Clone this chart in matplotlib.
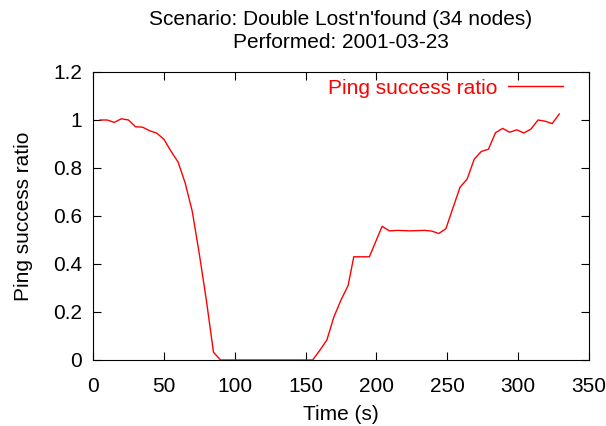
import numpy as np
import matplotlib.pyplot as plt

plt.rcParams['font.family'] = ['Liberation Sans', 'DejaVu Sans']

# Ping success ratio over time
time_s = [5, 10, 15, 20, 25, 30, 35, 40, 45, 50, 55, 60, 65, 70, 75, 80, 85, 90,
          95, 100, 105, 110, 115, 120, 125, 130, 135, 140, 145, 150, 155,
          160, 165, 170, 175, 180, 184, 195, 204, 209, 215, 224, 234, 239, 244,
          249, 254, 259, 264, 269, 274, 279, 284, 289, 294, 299, 304, 309, 314,
          319, 324, 329]
ratio = [1.0, 1.0, 0.99, 1.005, 1.0, 0.972, 0.97, 0.955, 0.945, 0.92, 0.87, 0.825,
         0.738, 0.62, 0.442, 0.248, 0.032, 0.0,
         0.0, 0.0, 0.0, 0.0, 0.0, 0.0, 0.0, 0.0, 0.0, 0.0, 0.0, 0.0, 0.0,
         0.04, 0.083, 0.18, 0.25, 0.31, 0.43, 0.43, 0.557, 0.538, 0.54, 0.538,
         0.54, 0.537, 0.527, 0.547, 0.634, 0.72, 0.754, 0.837, 0.869, 0.878,
         0.947, 0.965, 0.949, 0.959, 0.946, 0.962, 1.0, 0.995, 0.985, 1.025]

fig = plt.figure(figsize=(6.06, 4.26), dpi=100)
ax = fig.add_axes([0.1535, 0.155, 0.8185, 0.676])

ax.plot(time_s, ratio, color='red', linewidth=1, label='Ping success ratio')

ax.set_xlim(0, 350)
ax.set_ylim(0, 1.2)
ax.set_xticks(np.arange(0, 351, 50))
ax.set_yticks(np.arange(0, 1.21, 0.2))
ax.set_yticklabels(['0', '0.2', '0.4', '0.6', '0.8', '1', '1.2'])
ax.tick_params(direction='in', top=True, right=True, labelsize=15, length=6)
ax.tick_params(axis='x', pad=12)
ax.tick_params(axis='y', pad=8)

ax.set_xlabel('Time (s)', fontsize=15, labelpad=7)
ax.set_ylabel('Ping success ratio', fontsize=15, labelpad=14)
ax.set_title("Scenario: Double Lost'n'found (34 nodes)\nPerformed: 2001-03-23",
             fontsize=15, linespacing=1.3, pad=17)

ax.legend(loc='upper right', bbox_to_anchor=(0.9476, 0.977), frameon=False,
          markerfirst=False, fontsize=15, labelcolor='red', handlelength=2.65,
          handletextpad=0.5, borderaxespad=0, borderpad=0)

fig.savefig('out.png', dpi=100)
